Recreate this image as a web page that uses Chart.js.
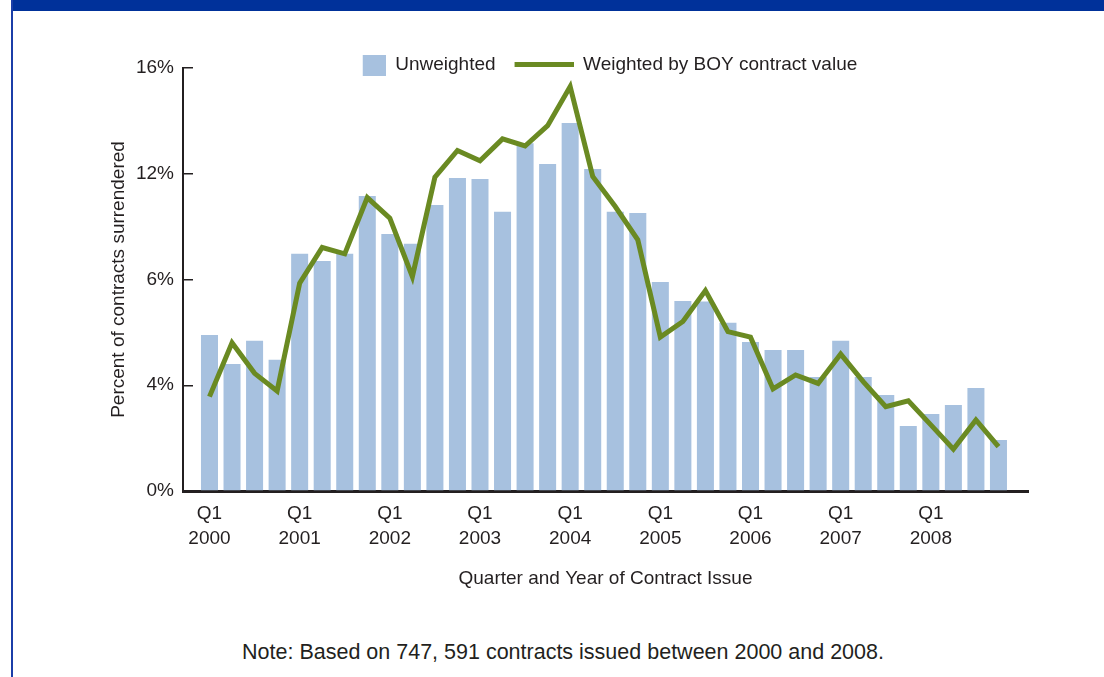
<!DOCTYPE html>
<html>
<head>
<meta charset="utf-8">
<script src="https://cdn.jsdelivr.net/npm/chart.js@4/dist/chart.umd.min.js"></script>
<style>
  html, body { margin: 0; padding: 0; background: #fff; }
  body { width: 1104px; height: 677px; position: relative; overflow: hidden; color: #231f20; }
  .band { position: absolute; left: 11px; top: 0; width: 1093px; height: 11px; background: #00319a; }
  .edge { position: absolute; left: 11px; top: 0; width: 2px; height: 677px; background: #1b3ea8; }
  .chart-box { position: absolute; left: 0; top: 0; width: 1104px; height: 620px; }
  .note { position: absolute; left: 0; top: 640px; width: 1126px; text-align: center;
          font-family: 'Liberation Sans', Arial, sans-serif; font-size: 21.5px; line-height: 24px; }
</style>
</head>
<body>
<div class="band"></div>
<div class="edge"></div>
<div class="chart-box"><canvas id="surrenderChart"></canvas></div>
<div class="note">Note: Based on 747, 591 contracts issued between 2000 and 2008.</div>
<script>
// quarters 2000 Q1 .. 2008 Q4
const years = ['2000', '2001', '2002', '2003', '2004', '2005', '2006', '2007', '2008'];
const quarters = years.flatMap(y => ['Q1', 'Q2', 'Q3', 'Q4'].map(q => q + ' ' + y));

const unweighted = [5.90, 4.80, 5.68, 4.96, 8.97, 8.70, 8.97, 11.16, 9.72, 9.35, 10.82, 11.84,
                    11.80, 10.56, 13.15, 12.37, 13.92, 12.18, 10.56, 10.52, 7.91, 7.19, 7.17, 6.36,
                    5.64, 5.33, 5.33, 4.31, 5.68, 4.31, 3.63, 2.46, 2.91, 3.25, 3.90, 1.93];
const weighted = [3.57, 5.61, 4.45, 3.78, 7.86, 9.21, 8.97, 11.10, 10.32, 8.11, 11.87, 12.88,
                  12.49, 13.32, 13.05, 13.82, 15.30, 11.90, 10.76, 9.50, 5.82, 6.41, 7.58, 6.03,
                  5.82, 3.86, 4.39, 4.07, 5.18, 4.14, 3.19, 3.41, 2.50, 1.58, 2.69, 1.68];

// tick labels as printed on the axis
const yTickLabels = ['0%', '4%', '6%', '12%', '16%'];

const ink = '#231f20';
const barColor = '#a7c1df';
const lineColor = '#6a8a22';

function legendIcon(draw) {
     const c = document.createElement('canvas');
     c.width = 78; c.height = 23;
     draw(c.getContext('2d'));
     return c;
}
const boxIcon = legendIcon(ctx => { ctx.fillStyle = barColor; ctx.fillRect(55, 0, 23, 23); });
const lineIcon = legendIcon(ctx => { ctx.fillStyle = lineColor; ctx.fillRect(19, 9, 59, 5); });

// legend sits partly beside the top of the plot in the original
const legendNudge = {
     id: 'legendNudge',
     afterLayout(chart) {
          const lg = chart.legend;
          lg.top += 16; lg.bottom += 16;
          lg.left -= 23; lg.right -= 23;
     }
};

Chart.defaults.font.family = "'Liberation Sans', Arial, sans-serif";
Chart.defaults.color = ink;

new Chart(document.getElementById('surrenderChart'), {
     type: 'bar',
     data: {
          datasets: [{
               type: 'bar',
               label: 'Unweighted',
               data: unweighted.map((v, i) => ({ x: i, y: v })),
               backgroundColor: barColor,
               categoryPercentage: 1,
               barPercentage: 0.755,
               order: 1
          }, {
               type: 'line',
               label: 'Weighted by BOY contract value',
               data: weighted.map((v, i) => ({ x: i, y: v })),
               borderColor: lineColor,
               borderWidth: 5,
               borderJoinStyle: 'miter',
               pointRadius: 0,
               tension: 0,
               order: 0
          }]
     },
     plugins: [legendNudge],
     options: {
          responsive: true,
          maintainAspectRatio: false,
          animation: false,
          layout: { padding: { top: 39, left: 20, right: 76, bottom: 20 } },
          plugins: {
               tooltip: { enabled: false },
               legend: {
                    position: 'top',
                    fullSize: false,
                    labels: {
                         usePointStyle: true,
                         pointStyleWidth: 78,
                         boxHeight: 23,
                         padding: 0,
                         color: ink,
                         font: { size: 19 },
                         generateLabels(chart) {
                              const items = Chart.defaults.plugins.legend.labels.generateLabels(chart);
                              items.sort((a, b) => a.datasetIndex - b.datasetIndex);
                              items.forEach(it => { it.pointStyle = it.datasetIndex === 0 ? boxIcon : lineIcon; });
                              return items;
                         }
                    }
               }
          },
          scales: {
               x: {
                    type: 'linear',
                    offset: false,
                    min: -1.175,
                    max: 36.31,
                    afterFit(scale) { scale.height = 109; },
                    afterBuildTicks(scale) { scale.ticks = years.map((y, i) => ({ value: i * 4 })); },
                    grid: { display: false, drawTicks: false },
                    border: { display: true, color: ink, width: 3 },
                    ticks: {
                         autoSkip: false,
                         maxRotation: 0,
                         padding: 10,
                         color: ink,
                         font: { size: 19, lineHeight: 1.316 },
                         callback: (value, index) => ['Q1', years[index]]
                    },
                    title: {
                         display: true,
                         text: 'Quarter and Year of Contract Issue',
                         color: ink,
                         font: { size: 19 },
                         padding: { top: 0, bottom: 10 }
                    }
               },
               y: {
                    min: 0,
                    max: 16,
                    afterFit(scale) { scale.width = 163; },
                    afterBuildTicks(scale) { scale.ticks = yTickLabels.map((t, i) => ({ value: i * 4 })); },
                    grid: { drawOnChartArea: false, drawTicks: true, tickLength: -10, color: ink, lineWidth: 1.5 },
                    border: { display: true, color: ink, width: 2 },
                    ticks: {
                         padding: 19,
                         color: ink,
                         font: { size: 19 },
                         callback: (value, index) => yTickLabels[index]
                    },
                    title: {
                         display: true,
                         text: 'Percent of contracts surrendered',
                         color: ink,
                         font: { size: 19 },
                         padding: { top: 87, bottom: 0 }
                    }
               }
          }
     }
});
</script>
</body>
</html>
